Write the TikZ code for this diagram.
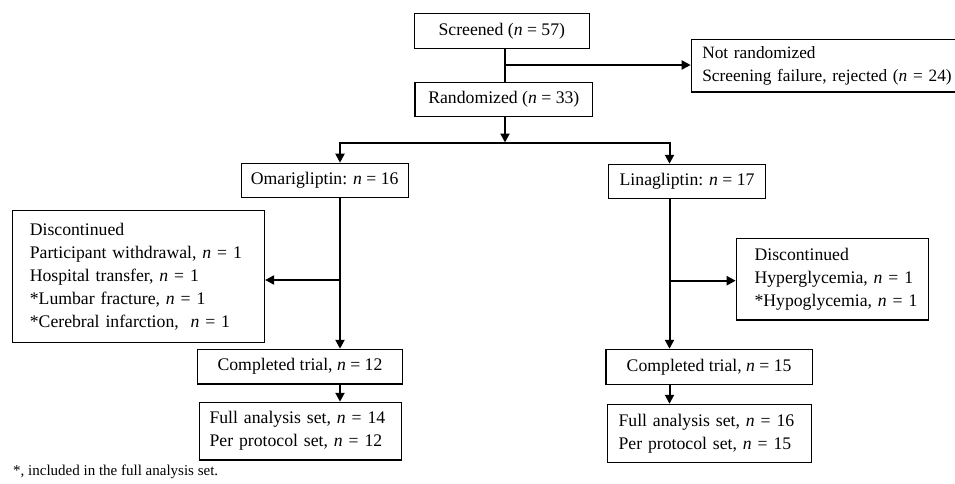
\documentclass[tikz,border=0pt]{standalone}
\usepackage{fontspec}
\setmainfont{Liberation Serif}
\usetikzlibrary{arrows.meta}
\tikzset{
  box/.style={draw=black, line width=1.1pt, rectangle, inner sep=0pt, font=\fontsize{17.7}{23}\selectfont},
  lbox/.style={box, align=left, anchor=west},
  conn/.style={line width=2pt, line join=miter},
  arr/.style={conn, -{Triangle[length=9pt,width=9pt]}},
}
\newcommand{\nn}{\textit{n}}
\newcommand{\ml}[1]{\mbox{#1}}
\begin{document}
\begin{tikzpicture}[x=1pt,y=-1pt]
\useasboundingbox (0,0) rectangle (955,484);
\fill[white] (0,0) rectangle (955,484);
% nodes
\node[box, minimum width=175pt, minimum height=35pt] (screen) at (501.8,30.8) {Screened (\nn{} = 57)};
\node[lbox, font=\fontsize{17.3}{22.5}\selectfont, text width=255pt, inner xsep=11pt, minimum height=52.5pt] (notr) at (690.7,65.75) {\ml{Not randomized}\\\ml{Screening failure, rejected (\nn{} = 24)}};
\node[box, minimum width=177.7pt, minimum height=34pt] (rand) at (503.85,99.7) {Randomized (\nn{} = 33)};
\node[box, minimum width=167pt, minimum height=34.5pt] (omari) at (324.7,180.5) {Omarigliptin: \nn{} = 16};
\node[box, minimum width=157.2pt, minimum height=34.4pt] (lina) at (687.1,181.5) {Linagliptin: \nn{} = 17};
\node[lbox, text width=217.7pt, inner xsep=17pt, minimum height=132pt] (discL) at (12.3,276.7) {\ml{Discontinued}\\\ml{Participant withdrawal, \nn{} = 1}\\\ml{Hospital transfer, \nn{} = 1}\\\ml{*Lumbar fracture, \nn{} = 1}\\\ml{*Cerebral infarction,\ \ \nn{} = 1}};
\node[lbox, text width=155.7pt, inner xsep=18.3pt, minimum height=81.3pt] (discR) at (735.7,279.35) {\ml{Discontinued}\\\ml{Hyperglycemia, \nn{} = 1}\\\ml{*Hypoglycemia, \nn{} = 1}};
\node[box, minimum width=205.4pt, minimum height=34.7pt] (compL) at (300,366.65) {Completed trial, \nn{} = 12};
\node[box, minimum width=206.3pt, minimum height=35pt] (compR) at (709.15,366.8) {Completed trial, \nn{} = 15};
\node[lbox, text width=182.3pt, inner xsep=10pt, minimum height=57.7pt] (fullL) at (199,431.15) {\ml{Full analysis set, \nn{} = 14}\\\ml{Per protocol set, \nn{} = 12}};
\node[lbox, text width=181.7pt, inner xsep=11pt, minimum height=58.4pt] (fullR) at (607,433.5) {\ml{Full analysis set, \nn{} = 16}\\\ml{Per protocol set, \nn{} = 15}};
\node[anchor=west, inner sep=0pt, font=\fontsize{15}{18}\selectfont] (foot) at (13,472) {*, included in the full analysis set.};
% junction coordinates
\coordinate (M) at (505,65);
\coordinate (barM) at (505,142.5);
\coordinate (barL) at (340,142.5);
\coordinate (barR) at (669.5,142.5);
\coordinate (jL) at (340,280);
\coordinate (jR) at (669.5,280.7);
% connectors
\draw[conn] (screen.south -| M) -- (rand.north -| M);
\draw[arr] (M) -- (notr.west |- M);
\draw[arr] (rand.south -| M) -- (barM);
\draw[arr] (barR) -- (barL) -- (barL |- omari.north);
\draw[arr] (barL) -- (barR) -- (barR |- lina.north);
\draw[arr] (omari.south -| jL) -- (compL.north -| jL);
\draw[arr] (jL) -- (discL.east |- jL);
\draw[arr] (lina.south -| jR) -- (compR.north -| jR);
\draw[arr] (jR) -- (discR.west |- jR);
\draw[arr] (compL.south -| jL) -- (fullL.north -| jL);
\draw[arr] (compR.south -| jR) -- (fullR.north -| jR);
\end{tikzpicture}
\end{document}
